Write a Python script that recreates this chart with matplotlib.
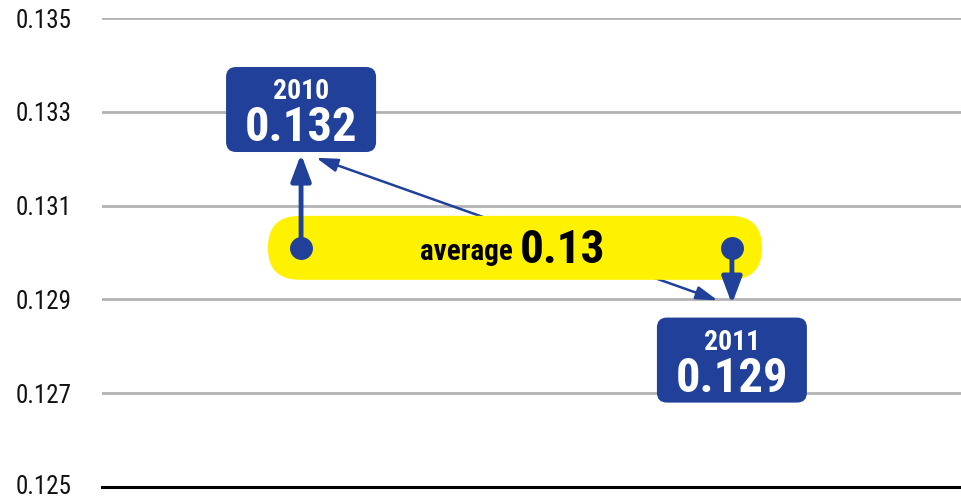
import matplotlib
matplotlib.use("Agg")
import matplotlib.pyplot as plt
from matplotlib.patches import FancyBboxPatch
from matplotlib.transforms import IdentityTransform, ScaledTranslation
from matplotlib import font_manager as fm

years = ["2010", "2011"]
values = [0.1321, 0.1289]
average = 0.1301
yticks = [0.125, 0.127, 0.129, 0.131, 0.133, 0.135]

BLUE = "#21409A"
YELLOW = "#FFF200"


def find_font(bold):
    def isbold(f):
        w = f.weight if isinstance(f.weight, int) else {"bold": 700, "normal": 400, "regular": 400}.get(str(f.weight), 400)
        return w >= 600
    fl = fm.fontManager.ttflist
    prefs = [lambda f: "Narrow" in f.name and "Liberation" in f.name,
             lambda f: "Condensed" in f.name and "Roboto" in f.name,
             lambda f: "Condensed" in f.name,
             lambda f: str(f.stretch) in ("condensed", "semi-condensed") and "DejaVu" in f.name]
    for p in prefs:
        c = [f for f in fl if p(f) and isbold(f) == bold and f.style == "normal"]
        if c:
            return fm.FontProperties(fname=c[0].fname)
    return fm.FontProperties(family="Liberation Sans", weight="bold" if bold else "normal")


REG = find_font(False)
BOLD = find_font(True)


def fp(base, size):
    p = base.copy()
    p.set_size(size)
    return p


fig = plt.figure(figsize=(9.62, 4.97), dpi=100)
ax = fig.add_axes([102/962, 1-487/497, 1-102/962, (487-18)/497])
ax.set_ylim(0.125, 0.135)
ax.set_xlim(-0.462, 1.534)
for s in ax.spines.values():
    s.set_visible(False)
ax.set_yticks(yticks)
ax.set_yticklabels([f"{t:.3f}" for t in yticks], color="#111111")
for lab in ax.get_yticklabels():
    lab.set_fontproperties(fp(REG, 18))
ax.tick_params(axis='y', length=0, pad=22)
ax.set_xticks([])
for t in yticks[1:]:
    ax.axhline(t, color="#b3b3b3", lw=2, zorder=1)
ax.axhline(yticks[0], color="black", lw=2.2, zorder=1, clip_on=False)
# nudge lowest tick label up slightly so it stays inside the canvas
bottom_lab = ax.yaxis.get_major_ticks()[0].label1
bottom_lab.set_transform(bottom_lab.get_transform() + ScaledTranslation(0, 2/72, fig.dpi_scale_trans))

xs = [0, 1]
PX = IdentityTransform()


def topx(x, y):
    return ax.transData.transform((x, y))


def rbox(cx, cy, w, h, r, color, z):
    b = FancyBboxPatch((cx - w/2 + r, cy - h/2 + r), w - 2*r, h - 2*r,
                       boxstyle=f"round,pad={r},rounding_size={r}",
                       transform=PX, facecolor=color, edgecolor="none", zorder=z, clip_on=False)
    ax.add_patch(b)


# connector line (behind band)
ax.annotate("", xy=(xs[0] + 0.035, values[0] - 0.00008), xytext=(xs[1] - 0.033, values[1] + 0.00008),
            arrowprops=dict(arrowstyle="<|-|>,head_length=1.3,head_width=0.4", color=BLUE, lw=1.8,
                            shrinkA=0, shrinkB=0), zorder=2)

# yellow average band
pa = topx(-0.077, average)
pb = topx(1.07, average)
rbox((pa[0] + pb[0]) / 2, pa[1], pb[0] - pa[0], 64, 31.9, YELLOW, 3)

mid = topx(0.5, average)
ax.text(mid[0] - 4, mid[1] - 12, "average", ha="right", va="baseline", fontproperties=fp(BOLD, 21),
        color="black", zorder=6, transform=PX)
ax.text(mid[0] + 3, mid[1] - 15, f"{round(average, 2):.2f}", ha="left", va="baseline",
        fontproperties=fp(BOLD, 34), color="black", zorder=6, transform=PX)

# vertical arrows and dots
for x, v in zip(xs, values):
    ax.annotate("", xy=(x, v), xytext=(x, average),
                arrowprops=dict(arrowstyle="-|>,head_length=1.6,head_width=0.6", color=BLUE, lw=3.5,
                                shrinkA=0, shrinkB=0), zorder=7)
    ax.plot([x], [average], "o", ms=15.5, color=BLUE, zorder=8)

# label boxes
for x, v, yr, off in zip(xs, values, years, [44.5, -56]):
    px = topx(x, v)
    cx, cy = px[0], px[1] + off
    rbox(cx, cy, 150, 85, 10, BLUE, 9)
    ax.text(cx, cy + 10.5, yr, ha="center", va="baseline", fontproperties=fp(BOLD, 20),
            color="white", zorder=10, transform=PX)
    ax.text(cx, cy - 31.5, f"{v:.3f}", ha="center", va="baseline", fontproperties=fp(BOLD, 35),
            color="white", zorder=10, transform=PX)

fig.savefig("out.png", dpi=100)
